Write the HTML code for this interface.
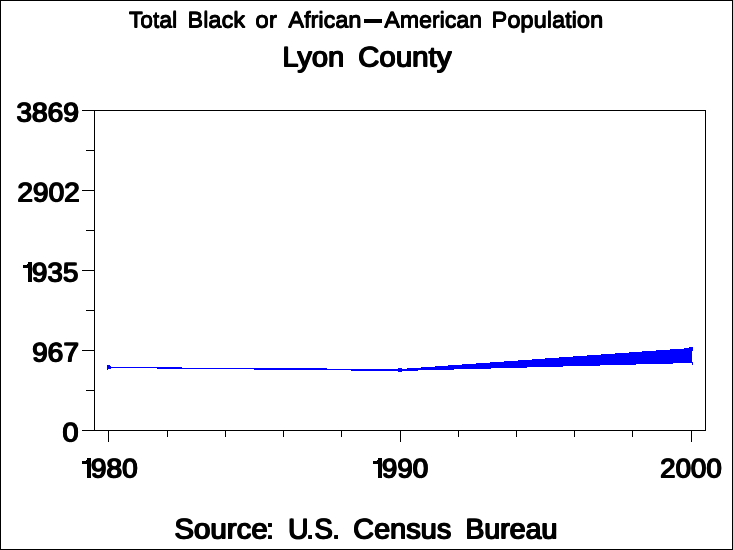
<!DOCTYPE html>
<html>
<head>
<meta charset="utf-8">
<title>Total Black or African-American Population - Lyon County</title>
<style>
html,body{margin:0;padding:0;background:#fff;}
body{width:733px;height:550px;overflow:hidden;position:relative;font-family:"Liberation Sans",sans-serif;color:#000;}
svg{position:absolute;left:0;top:0;display:block;}
text{font-family:"Liberation Sans",sans-serif;text-rendering:geometricPrecision;}
</style>
</head>
<body>
<svg width="733" height="550" viewBox="0 0 733 550">
  <g shape-rendering="crispEdges">
  <rect x="0.5" y="0.5" width="732" height="549" fill="#fff" stroke="#000" stroke-width="1"/>
  <!-- plot frame -->
  <rect x="94.5" y="110.5" width="611" height="320" fill="none" stroke="#000" stroke-width="1"/>
  <g stroke="#000" stroke-width="1">
    <!-- y major ticks -->
    <line x1="82" y1="110.5" x2="95" y2="110.5"/>
    <line x1="82" y1="190.5" x2="95" y2="190.5"/>
    <line x1="82" y1="270.5" x2="95" y2="270.5"/>
    <line x1="82" y1="350.5" x2="95" y2="350.5"/>
    <line x1="82" y1="430.5" x2="95" y2="430.5"/>
    <!-- y minor ticks -->
    <line x1="86" y1="150.5" x2="95" y2="150.5"/>
    <line x1="86" y1="230.5" x2="95" y2="230.5"/>
    <line x1="86" y1="310.5" x2="95" y2="310.5"/>
    <line x1="86" y1="390.5" x2="95" y2="390.5"/>
    <!-- x major ticks -->
    <line x1="108.5" y1="430" x2="108.5" y2="442"/>
    <line x1="400.5" y1="430" x2="400.5" y2="442"/>
    <line x1="691.5" y1="430" x2="691.5" y2="442"/>
    <!-- x minor ticks -->
    <line x1="167.5" y1="430" x2="167.5" y2="437"/>
    <line x1="225.5" y1="430" x2="225.5" y2="437"/>
    <line x1="283.5" y1="430" x2="283.5" y2="437"/>
    <line x1="341.5" y1="430" x2="341.5" y2="437"/>
    <line x1="458.5" y1="430" x2="458.5" y2="437"/>
    <line x1="516.5" y1="430" x2="516.5" y2="437"/>
    <line x1="574.5" y1="430" x2="574.5" y2="437"/>
    <line x1="632.5" y1="430" x2="632.5" y2="437"/>
  </g>
  <!-- data series -->
  <g fill="#0000ff" stroke="none">
    <polygon points="108,367 400,369 400,371 108,368"/>
    <polygon points="400,369 691,348 692,348 692,363 691,363 400,371"/>
    <rect x="107" y="365" width="3" height="4"/>
    <rect x="110" y="366" width="1" height="3"/>
    <rect x="107" y="369" width="1" height="1"/>
    <rect x="398" y="368" width="4" height="4"/>
    <rect x="689" y="347" width="4" height="4"/>
    <rect x="692" y="362" width="1" height="3"/>
  </g>
  <!-- title dash -->
  <rect x="364" y="19" width="18" height="4" fill="#000"/>
  <!-- digit 1 glyphs (Helvetica-style, no foot) -->
  <g fill="#000" stroke="none">
    <path transform="translate(22.90,262.00)" d="M5.2,0 L9.2,0 L9.2,20 L5.2,20 L5.2,6 L0,6 L0,3 L3.2,3 Q5,2.2 5.6,0 Z"><title>1</title></path>
    <path transform="translate(81.90,458.00)" d="M5.2,0 L9.2,0 L9.2,20 L5.2,20 L5.2,6 L0,6 L0,3 L3.2,3 Q5,2.2 5.6,0 Z"><title>1</title></path>
    <path transform="translate(372.90,458.00)" d="M5.2,0 L9.2,0 L9.2,20 L5.2,20 L5.2,6 L0,6 L0,3 L3.2,3 Q5,2.2 5.6,0 Z"><title>1</title></path>
  </g>
  </g>
  <!-- text: each group is drawn 4x with pixel offsets to embolden like the bitmap font -->
  <g fill="#000" stroke="none" opacity="0.999">
    <g id="tA">
      <text transform="translate(128.49,27) scale(1.0120,1)" font-size="22.6">Total</text>
      <text transform="translate(187.17,27) scale(1.0430,1)" font-size="22.6">Black</text>
      <text transform="translate(254.92,27) scale(1.0827,1)" font-size="22.6">or</text>
      <text transform="translate(288.10,27) scale(1.0371,1)" font-size="22.6">African</text>
      <text transform="translate(384.10,27) scale(1.0234,1)" font-size="22.6">American</text>
      <text transform="translate(491.17,27) scale(1.0464,1)" font-size="22.6">Population</text>
    </g>
    <use href="#tA" transform="translate(0.7,0)"/>
    <use href="#tA" transform="translate(0,1)"/>
    <use href="#tA" transform="translate(0.7,1)"/>
    <g id="tB">
      <text transform="translate(281.69,66) scale(1.0258,1)" font-size="28.3">Lyon</text>
      <text transform="translate(357.44,66) scale(1.0420,1)" font-size="28.3">County</text>
      <text transform="translate(173.70,538) scale(1.0407,1)" font-size="28.3">Source</text>
      <text transform="translate(265.55,538) scale(0.9818,1)" font-size="28.3">:</text>
      <text transform="translate(287.55,538) scale(1.0000,1)" font-size="28.3">U</text>
      <text transform="translate(305.74,538) scale(0.9455,1)" font-size="28.3">.</text>
      <text transform="translate(313.78,538) scale(0.9785,1)" font-size="28.3">S</text>
      <text transform="translate(331.74,538) scale(0.9455,1)" font-size="28.3">.</text>
      <text transform="translate(352.46,538) scale(1.0235,1)" font-size="28.3">Census</text>
      <text transform="translate(464.73,538) scale(1.0080,1)" font-size="28.3">Bureau</text>
      <text transform="translate(15.70,121) scale(1.0489,1)" font-size="26.8">3869</text>
      <text transform="translate(16.69,201) scale(1.0474,1)" font-size="26.8">2902</text>
      <text transform="translate(31.30,281) scale(1.0391,1)" font-size="26.8">935</text>
      <text transform="translate(31.39,361) scale(1.0500,1)" font-size="26.8">967</text>
      <text transform="translate(61.81,441) scale(1.0902,1)" font-size="26.8">0</text>
      <text transform="translate(90.29,477) scale(1.0447,1)" font-size="26.8">980</text>
      <text transform="translate(381.31,477) scale(1.0329,1)" font-size="26.8">990</text>
      <text transform="translate(659.51,477) scale(1.0323,1)" font-size="26.8">2000</text>
    </g>
    <use href="#tB" transform="translate(1.3,0)"/>
    <use href="#tB" transform="translate(0,1)"/>
    <use href="#tB" transform="translate(1.3,1)"/>
  </g>
</svg>
</body>
</html>
